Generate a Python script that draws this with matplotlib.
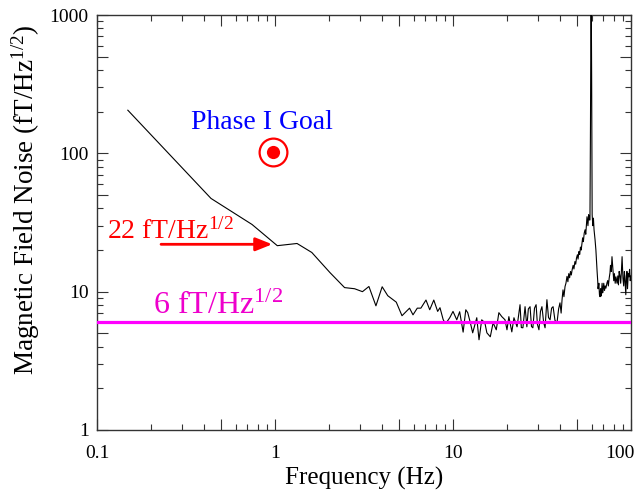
import matplotlib
matplotlib.use('Agg')
import matplotlib.pyplot as plt
from matplotlib.ticker import FixedLocator, FixedFormatter, NullFormatter
from matplotlib.transforms import ScaledTranslation

plt.rcParams['font.family'] = ['Liberation Serif', 'DejaVu Serif']
plt.rcParams['mathtext.fontset'] = 'custom'
plt.rcParams['mathtext.rm'] = 'Liberation Serif'
plt.rcParams['mathtext.it'] = 'Liberation Serif:italic'
plt.rcParams['mathtext.bf'] = 'Liberation Serif:bold'

# ---------------- data ----------------
# log-binned low-frequency part
freq_low = [0.149, 0.437, 0.743, 1.03, 1.33, 1.61, 2.04, 2.46, 2.8, 3.1, 3.37,
            3.69, 4.0, 4.3, 4.8, 5.17, 5.7, 5.96, 6.3, 6.6, 7.05, 7.4, 7.8,
            8.2, 8.45, 8.8, 9.0, 9.25, 9.6]
noise_low = [205, 47.2, 30.6, 21.5, 22.3, 19.2, 13.7, 10.7, 10.5, 10.0, 10.9,
             7.9, 10.85, 9.35, 8.4, 6.7, 7.6, 6.8, 7.6, 7.6, 8.7, 7.4, 8.7,
             7.2, 7.66, 6.3, 5.96, 6.06, 6.5]

# 10-40 Hz floor
freq_mid = [10.0, 10.5, 10.9, 11.4, 11.8, 12.1, 12.5, 12.9, 13.6, 14.0, 14.5,
            15.1, 15.5, 16.2, 16.8, 17.5, 18.1, 18.8, 19.6, 20.1, 20.6, 21.4,
            22.0, 22.9, 23.8, 24.2, 24.7, 25.4, 26.0, 26.5, 27.1, 27.6, 28.1,
            28.7, 29.3, 29.8, 30.4, 31.0, 31.6, 32.3, 32.9, 33.7, 34.4, 35.1,
            35.8, 36.5, 37.4, 38.4, 39.2, 39.9]
noise_mid = [7.2, 6.26, 7.16, 5.1, 7.4, 7.05, 6.0, 5.04, 6.48, 4.49, 6.26,
             5.96, 5.04, 4.72, 5.96, 5.3, 7.05, 6.6, 6.26, 5.3, 6.6, 5.12,
             6.48, 5.57, 8.05, 5.5, 5.48, 7.79, 5.57, 7.5, 7.79, 5.6, 5.48,
             7.6, 8.05, 5.8, 5.3, 7.2, 7.79, 6.0, 5.48, 8.75, 6.5, 6.26,
             7.6, 7.79, 6.2, 5.96, 7.5, 8.3]

# 40-65 Hz rise and 60 Hz line
freq_hum = [40.5, 41.0, 41.5, 42.0, 42.6, 43.1, 43.7, 44.2, 44.7, 45.2, 45.7,
            46.2, 46.7, 47.3, 47.8, 48.4, 48.9, 49.4, 50.0, 50.4, 51.0, 51.5,
            52.0, 52.5, 53.0, 53.5, 54.0, 54.6, 55.2, 55.7, 56.2, 56.6, 57.3,
            57.8, 58.3, 58.8, 59.2, 59.7, 60.1, 60.5, 61.0, 61.5, 62.0, 62.8,
            63.5, 64.0, 64.5, 65.0]
noise_hum = [7.0, 8.8, 10.3, 9.2, 10.9, 11.5, 12.9, 11.8, 13.5, 12.6, 14.0,
             13.2, 14.4, 15.5, 14.6, 16.5, 15.8, 17.5, 18.5, 17.2, 19.5, 18.6,
             21.0, 20.0, 22.0, 24.5, 23.0, 26.5, 28.0, 26.0, 31.0, 34.8, 30.0,
             36.0, 33.0, 33.0, 157, 2000, 361, 36.0, 30.0, 34.0, 28.0, 23.8,
             20.0, 16.5, 14.0, 12.0]

# 65-100 Hz
freq_high = [65.3, 66.0, 66.5, 67.0, 67.5, 68.0, 68.8, 69.3, 69.7, 70.3, 71.0,
             71.6, 72.3, 73.3, 74.0, 74.6, 75.4, 76.2, 76.7, 77.5, 78.2, 79.2,
             80.0, 80.7, 81.5, 82.3, 83.5, 84.3, 85.0, 85.8, 86.7, 87.5, 88.2,
             89.1, 90.1, 91.0, 91.8, 92.6, 93.5, 94.2, 94.9, 95.6, 96.5, 97.4,
             98.2, 99.0, 100.0]
noise_high = [10.5, 11.5, 9.5, 9.2, 10.5, 9.3, 11.5, 9.8, 10.3, 11.5, 10.2,
              11.0, 10.6, 11.6, 12.0, 11.0, 12.5, 13.7, 15.5, 14.0, 17.9, 14.5,
              12.0, 13.5, 11.5, 12.8, 11.5, 13.0, 11.2, 14.0, 13.0, 11.5, 13.5,
              17.9, 12.5, 11.0, 14.0, 12.0, 9.5, 13.0, 14.0, 10.5, 13.5, 12.8,
              14.5, 12.0, 13.0]

goal_freq = 0.97
goal_noise = 103
level_22 = 22
level_6 = 6

x_major = [0.1, 0.5, 1, 5, 10, 50, 100]
x_major_labels = ['0.1', '', '1', '', '10', '', '100']
x_minor = [0.2, 0.3, 0.4, 0.6, 0.7, 0.8, 0.9, 2, 3, 4, 6, 7, 8, 9,
           20, 30, 40, 60, 70, 80, 90]
y_major = [1, 5, 10, 50, 100, 500, 1000]
y_major_labels = ['1', '', '10', '', '100', '', '1000']
y_minor = [2, 3, 4, 6, 7, 8, 9, 20, 30, 40, 60, 70, 80, 90,
           200, 300, 400, 600, 700, 800, 900]

freq = freq_low + freq_mid + freq_hum + freq_high
noise = noise_low + noise_mid + noise_hum + noise_high

# ---------------- figure ----------------
fig = plt.figure(figsize=(6.36, 4.93), dpi=100)
ax = fig.add_axes([97 / 636, 63 / 493, 534 / 636, 415 / 493])
ax.set_xscale('log')
ax.set_yscale('log')

ax.plot(freq, noise, color='black', lw=0.8, zorder=3)
ax.plot([0.1, 100], [level_6, level_6], color='#ff00ff', lw=2.3, zorder=4)

# goal marker
ax.plot([goal_freq], [goal_noise], marker='o', ms=20, mfc='none', mec='red',
        mew=1.6, zorder=5)
ax.plot([goal_freq], [goal_noise], marker='o', ms=9.5, mfc='red', mec='red',
        mew=0, zorder=5)
ax.text(0.845, 149, 'Phase I Goal', color='blue', fontsize=20,
        ha='center', va='baseline')

# 22 fT arrow
ax.annotate('', xy=(0.965, level_22), xytext=(0.229, level_22),
            arrowprops=dict(arrowstyle='-|>,head_length=0.4,head_width=0.16',
                            color='red', lw=2, mutation_scale=25,
                            shrinkA=0, shrinkB=0), zorder=6)
ax.text(0.114, 24.2, r'22 fT/Hz$^{\mathrm{1/2}}$', color='red', fontsize=20,
        ha='left', va='baseline')
ax.text(0.206, 6.9, r'6 fT/Hz$^{\mathrm{1/2}}$', color='#ee00cc', fontsize=23,
        ha='left', va='baseline')

ax.set_xlim(0.1, 100)
ax.set_ylim(1, 1000)

ax.xaxis.set_major_locator(FixedLocator(x_major))
ax.xaxis.set_major_formatter(FixedFormatter(x_major_labels))
ax.xaxis.set_minor_locator(FixedLocator(x_minor))
ax.xaxis.set_minor_formatter(NullFormatter())
ax.yaxis.set_major_locator(FixedLocator(y_major))
ax.yaxis.set_major_formatter(FixedFormatter(y_major_labels))
ax.yaxis.set_minor_locator(FixedLocator(y_minor))
ax.yaxis.set_minor_formatter(NullFormatter())

spine_c = '#333333'
for s in ax.spines.values():
    s.set_color(spine_c)
    s.set_linewidth(1.0)
ax.tick_params(which='both', direction='in', top=True, right=True,
               color=spine_c, width=0.8, labelsize=14)
ax.tick_params(which='major', length=8)
ax.tick_params(which='minor', length=4.5)
ax.tick_params(axis='x', pad=11)
ax.tick_params(axis='y', pad=6)

ax.set_xlabel('Frequency (Hz)', fontsize=18, labelpad=3)
ax.set_ylabel(r'Magnetic Field Noise (fT/Hz$^{\mathrm{1/2}}$)', fontsize=19.5)
ax.yaxis.set_label_coords(-0.103, 0.554)

fig.canvas.draw()
last = ax.xaxis.get_major_ticks()[-1].label1
last.set_horizontalalignment('right')
last.set_transform(last.get_transform() +
                   ScaledTranslation(4 / 100, 0, fig.dpi_scale_trans))

fig.savefig('out.png', dpi=100)
